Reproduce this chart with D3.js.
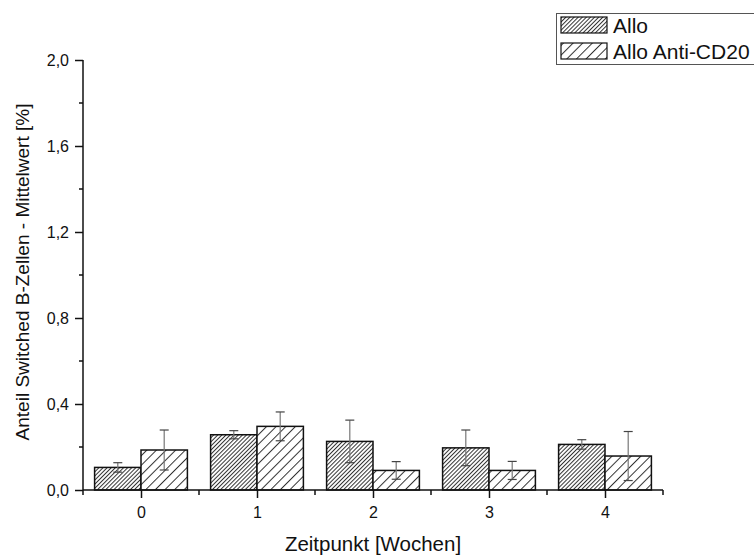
<!DOCTYPE html>
<html>
<head>
<meta charset="utf-8">
<script src="https://cdn.jsdelivr.net/npm/d3@7"></script>
<style>
  html, body { margin: 0; padding: 0; background: #fff; }
  svg { display: block; font-family: "Liberation Sans", Arial, sans-serif; }
</style>
</head>
<body>
<svg id="chart" width="754" height="556"></svg>
<script>
// Time points (weeks)
const categories = [0, 1, 2, 3, 4];
// Group names
const seriesNames = ["Allo", "Allo Anti-CD20"];
// Mean values [%]
const alloMean = [0.105, 0.257, 0.226, 0.196, 0.212];
const antiMean = [0.186, 0.296, 0.091, 0.091, 0.158];
// Error (± half-range)
const alloErr = [0.022, 0.019, 0.099, 0.083, 0.022];
const antiErr = [0.093, 0.067, 0.041, 0.042, 0.114];
// Axis ticks
const yTicks = [0, 0.4, 0.8, 1.2, 1.6, 2.0];
const yMinorTicks = [0.2, 0.6, 1.0, 1.4, 1.8];
const xMinorTicks = [-0.5, 0.5, 1.5, 2.5, 3.5, 4.5];

const svg = d3.select("#chart");
const font = "Liberation Sans, Arial, sans-serif";

const x = d3.scaleLinear().domain([-0.5, 4.5]).range([83, 663]);
const y = d3.scaleLinear().domain([0, 2.0]).range([490, 60]);
const barW = 0.4;

// Hatch patterns: dense for Allo, sparse for Allo Anti-CD20
const defs = svg.append("defs");
function hatch(id, spacing) {
  const p = defs.append("pattern")
    .attr("id", id)
    .attr("patternUnits", "userSpaceOnUse")
    .attr("width", spacing).attr("height", spacing)
    .attr("patternTransform", "rotate(45)");
  p.append("rect").attr("width", spacing).attr("height", spacing).attr("fill", "#fff");
  p.append("line").attr("x1", 0.5).attr("y1", 0).attr("x2", 0.5).attr("y2", spacing)
    .attr("stroke", "#333").attr("stroke-width", 1);
}
hatch("hatchDense", 2.9);
hatch("hatchSparse", 6.8);
const fills = ["url(#hatchDense)", "url(#hatchSparse)"];

const series = [
  { name: seriesNames[0], mean: alloMean, err: alloErr, offset: -barW },
  { name: seriesNames[1], mean: antiMean, err: antiErr, offset: 0 }
];

// Bars
series.forEach((s, si) => {
  const g = svg.append("g");
  g.selectAll("rect").data(categories).join("rect")
    .attr("x", (d) => x(d + s.offset))
    .attr("width", (d) => x(d + s.offset + barW) - x(d + s.offset))
    .attr("y", (d, i) => y(s.mean[i]))
    .attr("height", (d, i) => y(0) - y(s.mean[i]))
    .attr("fill", fills[si])
    .attr("stroke", "#111").attr("stroke-width", 1.5);
});

// Error bars
series.forEach((s) => {
  const g = svg.append("g");
  categories.forEach((d, i) => {
    const cx = x(d + s.offset + barW / 2);
    const top = y(s.mean[i] + s.err[i]);
    const bot = y(s.mean[i] - s.err[i]);
    g.append("line").attr("x1", cx).attr("x2", cx).attr("y1", top).attr("y2", bot)
      .attr("stroke", "#777").attr("stroke-width", 1.2);
    [top, bot].forEach((yy) => {
      g.append("line").attr("x1", cx - 4.5).attr("x2", cx + 4.5).attr("y1", yy).attr("y2", yy)
        .attr("stroke", "#444").attr("stroke-width", 1.2);
    });
  });
});

// Y axis
const yAxis = d3.axisLeft(y).tickValues(yTicks).tickSize(8).tickPadding(6)
  .tickFormat((d) => d3.format(".1f")(d).replace(".", ","));
const yg = svg.append("g").attr("transform", `translate(${x(-0.5)},0)`).call(yAxis);
yg.select(".domain").remove();
yg.append("line").attr("x1", 0).attr("x2", 0).attr("y1", y(2.0)).attr("y2", y(0))
  .attr("stroke", "#111").attr("stroke-width", 1.5);
yg.selectAll(".tick line").attr("stroke", "#111").attr("stroke-width", 1.5);
yg.selectAll(".tick text").attr("font-size", 16).attr("fill", "#111")
  .attr("font-family", font);
yg.selectAll(".minor").data(yMinorTicks).join("line").attr("class", "minor")
  .attr("x1", -4).attr("x2", 0).attr("y1", (d) => y(d)).attr("y2", (d) => y(d))
  .attr("stroke", "#111").attr("stroke-width", 1.5);

// X axis
const xAxis = d3.axisBottom(x).tickValues(categories).tickSize(8).tickPadding(9)
  .tickFormat(d3.format("d"));
const xg = svg.append("g").attr("transform", `translate(0,${y(0)})`).call(xAxis);
xg.select(".domain").remove();
xg.append("line").attr("x1", x(-0.5)).attr("x2", x(4.5)).attr("y1", 0).attr("y2", 0)
  .attr("stroke", "#111").attr("stroke-width", 1.5);
xg.selectAll(".tick line").attr("stroke", "#111").attr("stroke-width", 1.5);
xg.selectAll(".tick text").attr("font-size", 16).attr("fill", "#111")
  .attr("font-family", font);
xg.selectAll(".minor").data(xMinorTicks).join("line").attr("class", "minor")
  .attr("x1", (d) => x(d)).attr("x2", (d) => x(d)).attr("y1", 0).attr("y2", 5)
  .attr("stroke", "#111").attr("stroke-width", 1.5);

// Axis titles
svg.append("text").attr("x", 373).attr("y", 551).attr("text-anchor", "middle")
  .attr("font-size", 20.5).attr("fill", "#111").text("Zeitpunkt [Wochen]");
svg.append("text").attr("transform", "translate(29,272) rotate(-90)")
  .attr("text-anchor", "middle").attr("font-size", 19).attr("fill", "#111")
  .text("Anteil Switched B-Zellen - Mittelwert [%]");

// Legend
const lg = svg.append("g");
lg.append("rect").attr("x", 556.5).attr("y", 13.5).attr("width", 210).attr("height", 51)
  .attr("fill", "#fff").attr("stroke", "#555").attr("stroke-width", 1);
seriesNames.forEach((name, i) => {
  const yy = 17 + i * 26;
  lg.append("rect").attr("x", 561).attr("y", yy).attr("width", 46).attr("height", 16)
    .attr("fill", fills[i]).attr("stroke", "#111").attr("stroke-width", 1.2);
  lg.append("text").attr("x", 613).attr("y", yy + 15.5).attr("font-size", 21)
    .attr("fill", "#111").text(name);
});
</script>
</body>
</html>
